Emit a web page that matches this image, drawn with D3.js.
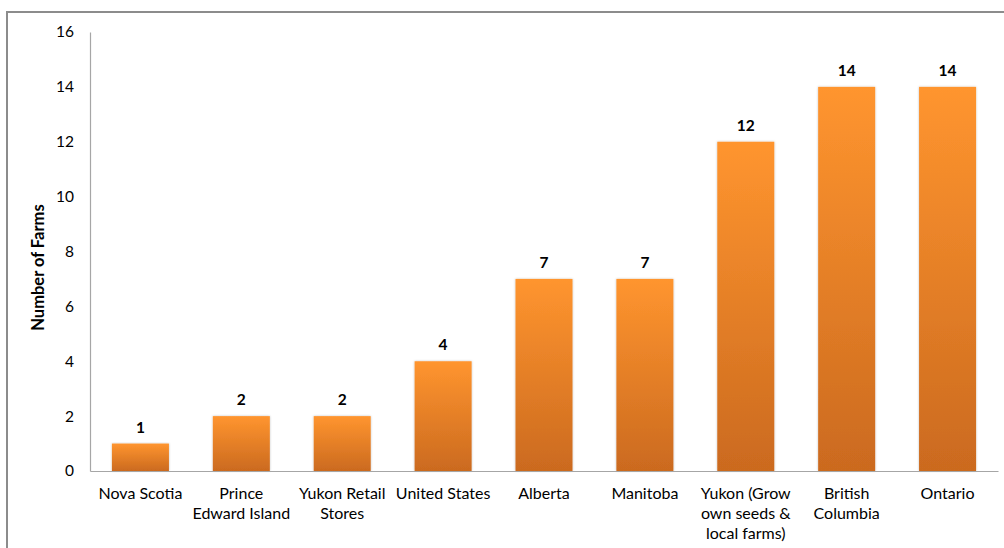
<!DOCTYPE html>
<html>
<head>
<meta charset="utf-8">
<script src="https://cdn.jsdelivr.net/npm/d3@7"></script>
<style>
  html, body { margin: 0; padding: 0; background: #fff; }
  svg { display: block; }
  text { font-family: Lato, "Open Sans", "Liberation Sans", sans-serif; fill: #000; }
</style>
</head>
<body>
<svg id="chart" width="1004" height="548"></svg>
<script>
// Farms supplying seed, by region
const categories = [
  ["Nova Scotia"],
  ["Prince", "Edward Island"],
  ["Yukon Retail", "Stores"],
  ["United States"],
  ["Alberta"],
  ["Manitoba"],
  ["Yukon (Grow", "own seeds &", "local farms)"],
  ["British", "Columbia"],
  ["Ontario"]
];
const farms = [1, 2, 2, 4, 7, 7, 12, 14, 14];
const yTicks = [0, 2, 4, 6, 8, 10, 12, 14, 16];
const yTitle = "Number of Farms";

const svg = d3.select("#chart");
const W = 1004, H = 548;
const margin = { left: 90, right: 6, top: 32, bottom: 77 };

// outer chart frame
svg.append("rect")
  .attr("x", 7).attr("y", 12)
  .attr("width", W + 10).attr("height", H + 10)
  .attr("fill", "#fff")
  .attr("stroke", "#8c8c8c").attr("stroke-width", 2);

const x = d3.scaleBand()
  .domain(d3.range(categories.length))
  .range([margin.left, W - margin.right])
  .paddingInner(0.435).paddingOuter(0.2175);

const y = d3.scaleLinear()
  .domain([0, 16])
  .range([H - margin.bottom, margin.top]);

const defs = svg.append("defs");
const grad = defs.append("linearGradient")
  .attr("id", "barGrad").attr("x1", 0).attr("y1", 0).attr("x2", 0).attr("y2", 1);
grad.append("stop").attr("offset", "0%").attr("stop-color", "#ff952f");
grad.append("stop").attr("offset", "100%").attr("stop-color", "#cb6a1f");

const shadow = defs.append("filter").attr("id", "barShadow")
  .attr("x", "-10%").attr("y", "-5%").attr("width", "120%").attr("height", "110%");
shadow.append("feDropShadow")
  .attr("dx", 0).attr("dy", 0).attr("stdDeviation", 1)
  .attr("flood-color", "#000").attr("flood-opacity", 0.25);

// y axis (line + labels, no tick marks)
const yAxis = svg.append("g")
  .attr("transform", `translate(${margin.left},0)`)
  .call(d3.axisLeft(y).tickValues(yTicks).tickSize(0).tickPadding(16));
yAxis.select(".domain").attr("stroke", "#a6a6a6").attr("stroke-width", 1.2);
yAxis.selectAll("text").attr("font-size", 15.5).attr("fill", "#000");

// bars
svg.append("g").selectAll("rect")
  .data(farms)
  .join("rect")
  .attr("x", (d, i) => x(i))
  .attr("y", d => y(d))
  .attr("width", x.bandwidth())
  .attr("height", d => y(0) - y(d))
  .attr("fill", "url(#barGrad)")
  .attr("filter", "url(#barShadow)");

// value labels
svg.append("g").selectAll("text")
  .data(farms)
  .join("text")
  .attr("x", (d, i) => x(i) + x.bandwidth() / 2)
  .attr("y", d => y(d) - 11)
  .attr("text-anchor", "middle")
  .attr("font-size", 15.5)
  .attr("font-weight", "bold")
  .text(d => d);

// x axis
const xAxis = svg.append("g")
  .attr("transform", `translate(0,${y(0)})`)
  .call(d3.axisBottom(x).tickSize(0).tickFormat(""));
xAxis.select(".domain").attr("stroke", "#a6a6a6").attr("stroke-width", 1.2);

// multi-line category labels
const catG = svg.append("g");
categories.forEach((lines, i) => {
  const t = catG.append("text")
    .attr("x", x(i) + x.bandwidth() / 2)
    .attr("y", y(0) + 28)
    .attr("text-anchor", "middle")
    .attr("font-size", 16);
  lines.forEach((ln, k) => {
    t.append("tspan")
      .attr("x", x(i) + x.bandwidth() / 2)
      .attr("dy", k === 0 ? 0 : 20)
      .text(ln);
  });
});

// y axis title
svg.append("text")
  .attr("transform", `translate(44,${(y(0) + y(16)) / 2 + 16}) rotate(-90)`)
  .attr("text-anchor", "middle")
  .attr("font-size", 16.5)
  .attr("font-weight", "bold")
  .text(yTitle);
</script>
</body>
</html>
